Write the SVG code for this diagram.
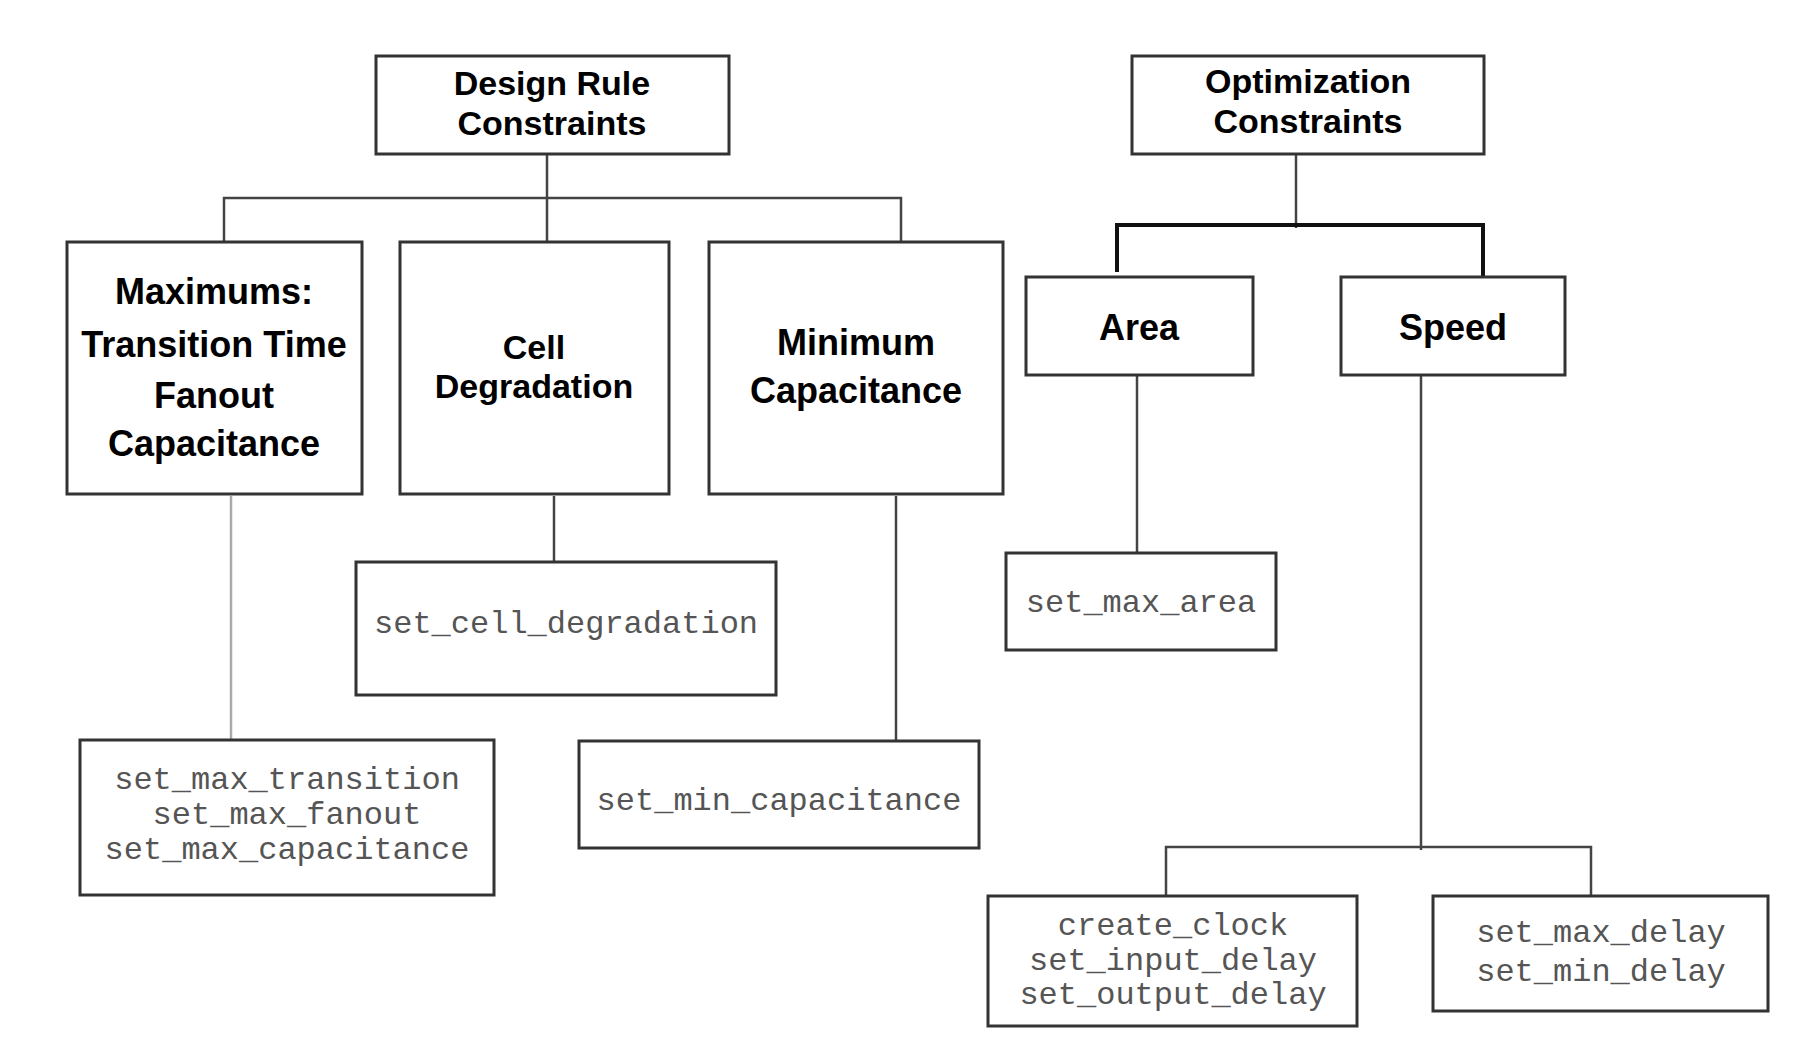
<svg xmlns="http://www.w3.org/2000/svg" width="1793" height="1039" viewBox="0 0 1793 1039">
<style>
.box{fill:#fff;stroke:#333;stroke-width:3}
.t{font-family:"Liberation Sans",Arial,sans-serif;font-weight:bold;font-size:36px;fill:#000;text-anchor:middle}
.t2{font-size:34px}
.m{font-family:"Liberation Mono","Courier New",monospace;font-size:32px;fill:#555;text-anchor:middle}
.c{fill:none;stroke:#444;stroke-width:2.5}
.cl{fill:none;stroke:#aaa;stroke-width:2.5}
.ck{fill:none;stroke:#111;stroke-width:4}
</style>
<rect width="1793" height="1039" fill="#fff"/>
<g id="connectors">
<path class="c" d="M547,154 V242 M224,242 V198 H901 V242"/>
<path class="cl" d="M231,496 V740"/>
<path class="c" d="M554,496 V562"/>
<path class="c" d="M896,496 V741"/>
<path class="c" d="M1296,154 V228"/>
<path class="ck" d="M1117,272 V225 H1483 V276"/>
<path class="c" d="M1137,375 V553"/>
<path class="c" d="M1421,375 V850 M1166,896 V847 H1591 V896"/>
</g>
<g id="design-rule">
<rect class="box" x="376" y="56" width="353" height="98"/>
<text class="t t2" x="552" y="95">Design Rule</text>
<text class="t t2" x="552" y="135">Constraints</text>
</g>
<g id="maximums">
<rect class="box" x="67" y="242" width="295" height="252"/>
<text class="t" x="214" y="304">Maximums:</text>
<text class="t" x="214" y="357">Transition Time</text>
<text class="t" x="214" y="408">Fanout</text>
<text class="t" x="214" y="456">Capacitance</text>
</g>
<g id="cell-degradation">
<rect class="box" x="400" y="242" width="269" height="252"/>
<text class="t t2" x="534" y="359">Cell</text>
<text class="t t2" x="534" y="398">Degradation</text>
</g>
<g id="minimum-capacitance">
<rect class="box" x="709" y="242" width="294" height="252"/>
<text class="t" x="856" y="355">Minimum</text>
<text class="t" x="856" y="403">Capacitance</text>
</g>
<g id="optimization">
<rect class="box" x="1132" y="56" width="352" height="98"/>
<text class="t t2" x="1308" y="93">Optimization</text>
<text class="t t2" x="1308" y="133">Constraints</text>
</g>
<g id="area">
<rect class="box" x="1026" y="277" width="227" height="98"/>
<text class="t" x="1139" y="340">Area</text>
</g>
<g id="speed">
<rect class="box" x="1341" y="277" width="224" height="98"/>
<text class="t" x="1453" y="340">Speed</text>
</g>
<g id="set-max-transition">
<rect class="box" x="80" y="740" width="414" height="155"/>
<text class="m" x="287" y="789">set_max_transition</text>
<text class="m" x="287" y="824">set_max_fanout</text>
<text class="m" x="287" y="859">set_max_capacitance</text>
</g>
<g id="set-cell-degradation">
<rect class="box" x="356" y="562" width="420" height="133"/>
<text class="m" x="566" y="633">set_cell_degradation</text>
</g>
<g id="set-min-capacitance">
<rect class="box" x="579" y="741" width="400" height="107"/>
<text class="m" x="779" y="810">set_min_capacitance</text>
</g>
<g id="set-max-area">
<rect class="box" x="1006" y="553" width="270" height="97"/>
<text class="m" x="1141" y="612">set_max_area</text>
</g>
<g id="clock-io">
<rect class="box" x="988" y="896" width="369" height="130"/>
<text class="m" x="1173" y="935">create_clock</text>
<text class="m" x="1173" y="970">set_input_delay</text>
<text class="m" x="1173" y="1004">set_output_delay</text>
</g>
<g id="delay">
<rect class="box" x="1433" y="896" width="335" height="115"/>
<text class="m" x="1601" y="942">set_max_delay</text>
<text class="m" x="1601" y="981">set_min_delay</text>
</g>
</svg>
